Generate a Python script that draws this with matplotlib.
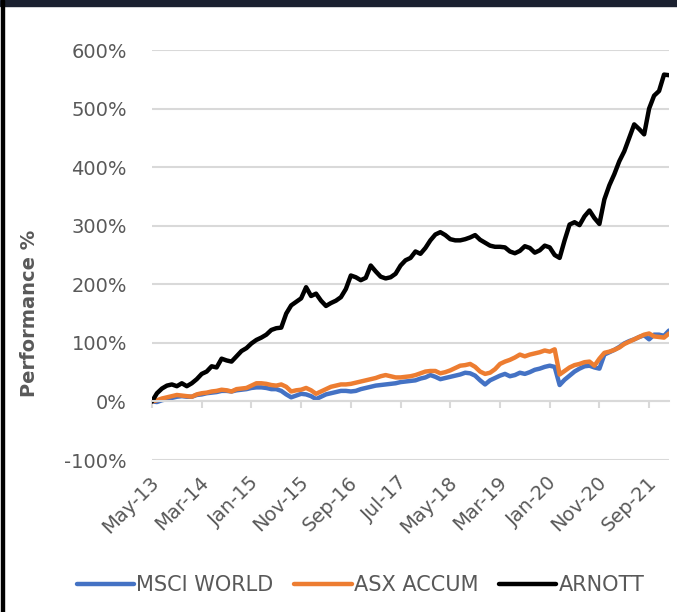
import numpy as np
import pandas as pd
import matplotlib.pyplot as plt
from matplotlib.lines import Line2D
from matplotlib.patches import Rectangle

########################### DATA ###########################
# monthly cumulative performance (%), May-13 .. Jan-22
dates = pd.date_range('2013-05-01', periods=105, freq='MS')

msci_world = [0, -1, 2, 4, 6, 8, 9, 8, 8, 11,
              12, 14, 15, 16, 18, 18, 17, 19, 20, 21,
              23, 24, 24, 23, 21, 21, 18, 12, 7, 10,
              13, 12, 9, 4, 8, 12, 14, 16, 18, 18,
              17, 18, 21, 23, 25, 27, 28, 29, 30, 31,
              33, 34, 35, 36, 39, 41, 45, 42, 38, 40,
              42, 44, 46, 49, 48, 44, 36, 29, 36, 40,
              44, 47, 43, 45, 49, 47, 50, 54, 56, 59,
              61, 59, 28, 37, 44, 51, 56, 60, 61, 58,
              56, 80, 84, 88, 93, 99, 103, 106, 110, 113,
              106, 114, 114, 112, 121]

asx_accum = [0, 2, 5, 7, 9, 11, 10, 9, 8, 12,
             14, 15, 17, 18, 20, 19, 17, 21, 22, 23,
             27, 31, 31, 30, 28, 27, 29, 25, 17, 19,
             20, 23, 19, 13, 17, 21, 25, 27, 29, 29,
             30, 32, 34, 36, 38, 40, 43, 45, 43, 41,
             41, 42, 43, 45, 48, 51, 52, 52, 48, 50,
             53, 57, 61, 62, 64, 59, 51, 47, 49, 55,
             64, 68, 71, 75, 80, 77, 80, 82, 84, 87,
             85, 89, 46, 52, 58, 62, 64, 67, 68, 61,
             73, 83, 85, 88, 92, 98, 102, 106, 110, 114,
             116, 111, 110, 109, 116]

arnott = [0, 14, 22, 27, 29, 26, 31, 26, 31, 38,
          47, 51, 60, 58, 73, 70, 68, 77, 86, 91,
          99, 105, 109, 114, 122, 125, 126, 150, 164, 170,
          176, 195, 180, 184, 172, 163, 168, 172, 178, 192,
          215, 212, 207, 211, 232, 222, 213, 210, 212, 218,
          232, 241, 245, 256, 252, 262, 275, 285, 289, 284,
          277, 275, 275, 277, 280, 284, 276, 271, 266, 264,
          264, 263, 256, 253, 257, 265, 262, 254, 258, 266,
          263, 250, 245, 275, 302, 306, 301, 316, 326, 313,
          303, 345, 369, 388, 410, 427, 450, 473, 465, 456,
          500, 522, 530, 558, 557]

series_names = ['MSCI WORLD', 'ASX ACCUM', 'ARNOTT']
series_colors = ['#4472C4', '#ED7D31', '#000000']
#####################################################################

grey = '#595959'
plt.rcParams['font.family'] = ['DejaVu Sans']

fig = plt.figure(figsize=(6.77, 6.12), dpi=100)
ax = fig.add_axes([152/677, 1-460/612, (669-152)/677, (460-50)/612])

x = np.arange(len(dates))
for vals, name, col in zip([msci_world, asx_accum, arnott], series_names, series_colors):
    ax.plot(x, vals, color=col, lw=3.2, solid_joinstyle='round', solid_capstyle='round', label=name)

ax.set_xlim(0, len(dates)-1)
ax.set_ylim(-100, 600)
yt = np.arange(-100, 601, 100)
ax.set_yticks(yt)
ax.set_yticklabels([f'{v}%' for v in yt], fontsize=14, color=grey)
ax.yaxis.grid(True, color='#d9d9d9', lw=1.5)
ax.set_axisbelow(True)
for s in ['top', 'right', 'left']:
    ax.spines[s].set_visible(False)
ax.spines['bottom'].set_position(('data', 0))
ax.spines['bottom'].set_color('#d9d9d9')
ax.spines['bottom'].set_linewidth(1.5)
ax.tick_params(axis='y', length=0, pad=18)

xt = x[::10]
ax.set_xticks(xt)
ax.tick_params(axis='x', length=5, width=1.5, color='#d9d9d9', direction='out', labelbottom=False)
for i in xt:
    ax.annotate(dates[i].strftime('%b-%y'), xy=(i, 0), xycoords=('data', 'axes fraction'),
                xytext=(3, -14), textcoords='offset points', ha='right', va='center',
                rotation=45, rotation_mode='anchor', fontsize=14, color=grey)

fig.text(30/677, 1-313/612, 'Performance %', rotation=90, ha='center', va='center',
         fontsize=14, fontweight='bold', color=grey)

handles = [Line2D([], [], color=c, lw=3.2, solid_capstyle='round') for c in series_colors]
fig.legend(handles, series_names, loc='center', bbox_to_anchor=(0.5325, 1-585/612), ncol=3,
           frameon=False, handlelength=2.75, handletextpad=0.1, columnspacing=1.0,
           prop={'size': 15}, labelcolor=grey)

# frame bits
fig.patches.append(Rectangle((0, 1-6/612), 1, 6/612, transform=fig.transFigure, color='#1b2130', zorder=10))
fig.patches.append(Rectangle((1/677, 0), 3/677, 1, transform=fig.transFigure, color='black', zorder=10))

fig.savefig('out.png', dpi=100)
